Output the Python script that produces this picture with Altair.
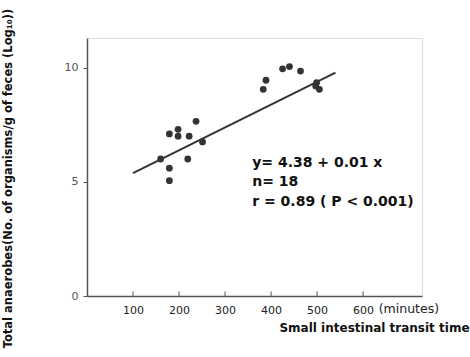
import altair as alt
import pandas as pd

# Data
transit_min = [160, 179, 179, 179, 198, 198, 222, 237, 219, 251,
               383, 389, 425, 440, 464, 499, 497, 505]
anaerobes_log = [6.0, 5.6, 5.05, 7.1, 7.3, 7.0, 7.0, 7.65, 6.0, 6.75,
                 9.05, 9.45, 9.95, 10.05, 9.85, 9.35, 9.2, 9.05]

fit_x = [100, 540]
fit_y = [5.38, 9.78]

x_ticks = [100, 200, 300, 400, 500, 600]
y_ticks = [0, 5, 10]

ann_lines = ["y= 4.38 + 0.01  x", "n= 18", "r = 0.89 ( P < 0.001)"]
ann_x = [359, 359, 359]
ann_y = [5.83, 5.0, 4.12]

pts = pd.DataFrame({"t": transit_min, "a": anaerobes_log})
fit = pd.DataFrame({"t": fit_x, "a": fit_y})
ann = pd.DataFrame({"txt": ann_lines, "t": ann_x, "a": ann_y})
ticks = pd.DataFrame({"t": x_ticks, "a0": [0] * 6, "a1": [0.2] * 6})
unit = pd.DataFrame({"txt": ["(minutes)"], "t": [634], "a": [-0.55]})

FONT = "DejaVu Sans"
xsc = alt.Scale(domain=[0, 728], nice=False, zero=False)
ysc = alt.Scale(domain=[0, 11.3], nice=False, zero=False)

xaxis = alt.Axis(values=x_ticks, ticks=False, grid=False, domainColor="#555",
                 domainWidth=1.5, labelFont=FONT, labelFontSize=11,
                 labelColor="#222", labelPadding=8,
                 title="Small intestinal transit time", titleFont=FONT,
                 titleFontSize=12, titleFontWeight="bold", titleColor="#111",
                 titleX=287, titleY=31, titleAlign="center",
                 titleBaseline="middle", titleAnchor="start")
yaxis = alt.Axis(values=y_ticks, grid=False, domainColor="#555",
                 domainWidth=1.5, tickColor="#555", tickSize=4,
                 labelFont=FONT, labelFontSize=11, labelColor="#555",
                 labelPadding=5,
                 title="Total anaerobes(No. of organisms/g of feces (Log₁₀))",
                 titleFont=FONT, titleFontSize=11.5, titleFontWeight="bold",
                 titleColor="#111", titleAngle=270, titleX=-79, titleY=140,
                 titleAlign="center", titleBaseline="middle",
                 titleAnchor="start")

base_pts = alt.Chart(pts).mark_circle(size=46, color="#333", opacity=1).encode(
    x=alt.X("t:Q", scale=xsc, axis=xaxis),
    y=alt.Y("a:Q", scale=ysc, axis=yaxis),
)
line = alt.Chart(fit).mark_line(color="#333", strokeWidth=2).encode(
    x=alt.X("t:Q", scale=xsc), y=alt.Y("a:Q", scale=ysc))
tk = alt.Chart(ticks).mark_rule(color="#555", strokeWidth=1).encode(
    x=alt.X("t:Q", scale=xsc), y=alt.Y("a0:Q", scale=ysc), y2="a1:Q")
txt = alt.Chart(ann).mark_text(align="left", baseline="middle", font=FONT,
                               fontSize=14, fontWeight="bold",
                               color="#111").encode(
    x=alt.X("t:Q", scale=xsc), y=alt.Y("a:Q", scale=ysc), text="txt:N")
utxt = alt.Chart(unit).mark_text(align="left", baseline="middle", font=FONT,
                                 fontSize=12.5, color="#222").encode(
    x=alt.X("t:Q", scale=xsc), y=alt.Y("a:Q", scale=ysc), text="txt:N")

chart = alt.layer(tk, line, base_pts, txt, utxt).properties(
    width=335, height=258,
    autosize=alt.AutoSizeParams(type="none"),
    padding={"left": 87, "top": 38, "right": 48, "bottom": 61},
).configure_view(stroke=None).configure(background="white")

chart.save("out.html", embed_options={"renderer": "svg", "actions": False})
